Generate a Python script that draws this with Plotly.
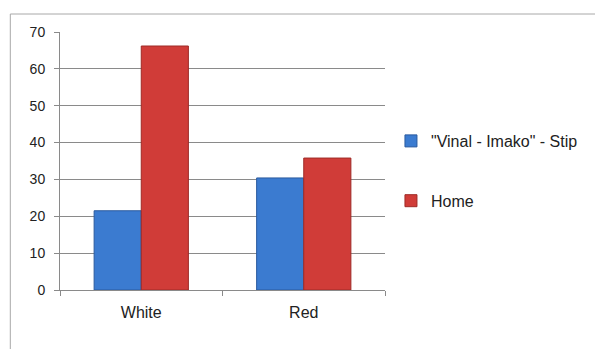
import plotly.graph_objects as go

categories = ["White", "Red"]
series_names = ['"Vinal - Imako" - Stip', "Home"]
vinal_values = [21.5, 30.4]
home_values = [66.2, 35.8]
y_ticks = [0, 10, 20, 30, 40, 50, 60, 70]

W, H = 595, 349
L, R, T, B = 60, 208, 32, 59
pw = W - L - R
ph = H - T - B

fig = go.Figure()
fig.add_trace(go.Bar(
    x=categories, y=vinal_values, name=series_names[0], legendgroup="a",
    marker=dict(color="#3b7bd0", line=dict(color="#2a5a9e", width=1)),
))
fig.add_trace(go.Bar(
    x=categories, y=home_values, name=series_names[1], legendgroup="b",
    marker=dict(color="#d03c38", line=dict(color="#9e2a26", width=1)),
))

fig.update_layout(
    width=W, height=H,
    margin=dict(l=L, r=R, t=T, b=B, pad=0),
    paper_bgcolor="white", plot_bgcolor="white",
    barmode="group", bargap=0.42, bargroupgap=0,
    font=dict(family="Liberation Sans, Arial, sans-serif", color="#333333", size=11),
    showlegend=True,
    legend=dict(
        x=(393 - L) / pw, y=(290 - 171) / ph, xanchor="left", yanchor="middle",
        font=dict(size=16, color="#222222"), tracegroupgap=36,
        itemwidth=30, bgcolor="rgba(0,0,0,0)",
    ),
    xaxis=dict(
        showline=True, linecolor="#8a8a8a", linewidth=1,
        ticks="outside", tickson="boundaries", ticklen=5, tickcolor="#8a8a8a",
        tickfont=dict(size=16, color="#222222"), ticklabelstandoff=8,
        showgrid=False,
    ),
    yaxis=dict(
        range=[0, 70], tickvals=y_ticks,
        showline=True, linecolor="#8a8a8a", linewidth=1,
        ticks="outside", ticklen=5, tickcolor="#8a8a8a",
        showgrid=True, gridcolor="#8a8a8a", gridwidth=1,
        zeroline=False, tickfont=dict(size=14, color="#222222"),
        ticklabelstandoff=6,
    ),
)

# outer chart frame
fig.add_shape(
    type="rect", xref="paper", yref="paper",
    x0=(10 - L) / pw, x1=(W + 20 - L) / pw,
    y0=(290 - (H + 20)) / ph, y1=(290 - 14) / ph,
    line=dict(color="#a8a8a8", width=1), fillcolor="rgba(0,0,0,0)",
    layer="below",
)

fig.write_html("out.html")
